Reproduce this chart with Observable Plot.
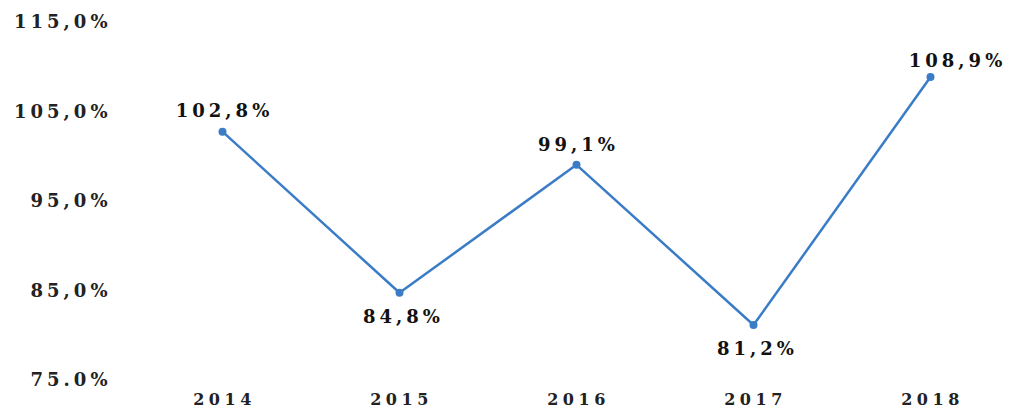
<!DOCTYPE html>
<html>
<head>
<meta charset="utf-8">
<script src="https://cdn.jsdelivr.net/npm/d3@7"></script>
<script src="https://cdn.jsdelivr.net/npm/@observablehq/plot@0.6"></script>
<style>
  body { margin: 0; background: #fff; }
  #chart svg { display: block; }
  g[aria-label="y-axis tick label"] text { letter-spacing: 4px; }
  g[aria-label="x-axis tick label"] text { letter-spacing: 4.5px; }
  g.vlabel text { letter-spacing: 4px; }
</style>
</head>
<body>
<div id="chart"></div>
<script>
const years = [2014, 2015, 2016, 2017, 2018];
const values = [102.8, 84.8, 99.1, 81.2, 108.9];
const yTicks = [75, 85, 95, 105, 115];
const yTickLabels = ["75.0%", "85,0%", "95,0%", "105,0%", "115,0%"];

const n = values.length;
const data = years.map((y, i) => ({
  year: y,
  value: values[i],
  label: values[i].toFixed(1).replace(".", ",") + "%",
  above: !(i > 0 && i < n - 1 && values[i] < values[i - 1] && values[i] < values[i + 1]),
  last: i === n - 1
}));

const color = "#3b7cc7";
const font = "'DejaVu Serif', 'Liberation Serif', serif";
const labelOpts = { x: "year", y: "value", text: "label", fontSize: 18, fontWeight: "bold", fill: "#111", className: "vlabel" };

const chart = Plot.plot({
  width: 1010,
  height: 408,
  marginLeft: 110,
  marginRight: 80,
  marginTop: 22,
  marginBottom: 28,
  style: { fontFamily: font, background: "#fff", overflow: "visible" },
  x: { domain: [2014, 2018], insetLeft: 112, label: null },
  y: { domain: [75, 115], label: null },
  marks: [
    Plot.axisY({ ticks: yTicks, tickFormat: d => yTickLabels[yTicks.indexOf(d)], tickSize: 0, tickPadding: -1, fontSize: 18, fontWeight: "bold", fill: "#222" }),
    Plot.axisX({ ticks: years, tickFormat: d => String(d), tickSize: 0, tickPadding: 13, fontSize: 16, fontWeight: "bold", fill: "#222", dx: 2 }),
    Plot.line(data, { x: "year", y: "value", stroke: color, strokeWidth: 2.5 }),
    Plot.dot(data, { x: "year", y: "value", fill: color, r: 4 }),
    Plot.text(data.filter(d => d.above && !d.last), { ...labelOpts, dy: -20, dx: 2 }),
    Plot.text(data.filter(d => d.above && d.last), { ...labelOpts, dy: -16, dx: 27 }),
    Plot.text(data.filter(d => !d.above), { ...labelOpts, dy: 24, dx: 4 })
  ]
});
document.getElementById("chart").appendChild(chart);
</script>
</body>
</html>
